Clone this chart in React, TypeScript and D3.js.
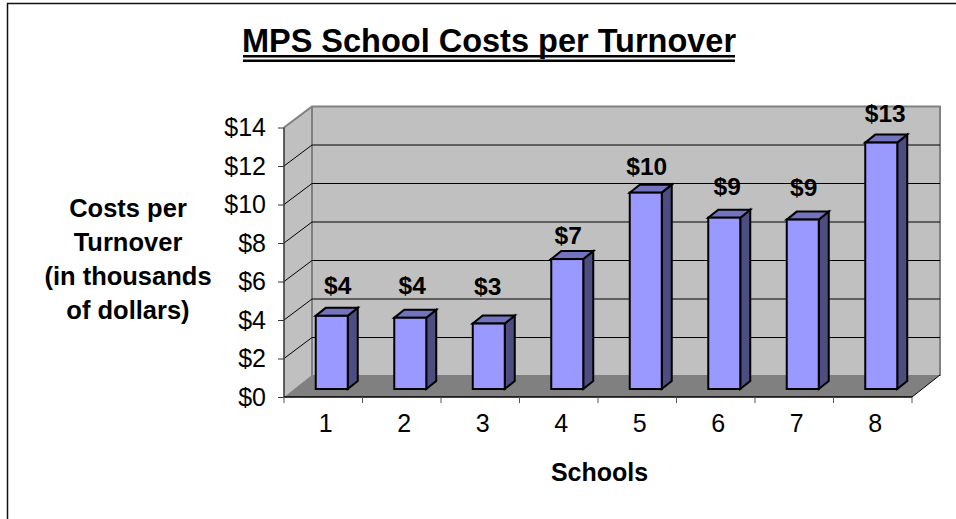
import { useEffect, useRef } from "react"
import * as d3 from "d3"

const schools = ["1", "2", "3", "4", "5", "6", "7", "8"]
const costs = [3.8, 3.7, 3.4, 6.75, 10.2, 8.9, 8.8, 12.8]
const costLabels = ["$4", "$4", "$3", "$7", "$10", "$9", "$9", "$13"]
const costTicks = [0, 2, 4, 6, 8, 10, 12, 14]
const yTitle = ["Costs per", "Turnover", "(in thousands", "of dollars)"]

const FONT = "'Liberation Sans', Arial, sans-serif"

export default function App() {
  const svgRef = useRef<SVGSVGElement>(null)

  useEffect(() => {
    if (!svgRef.current) return
    const svg = d3.select(svgRef.current)
    svg.selectAll("*").remove()
    svg.style("font-family", FONT)

    const x = d3.scaleBand<string>().domain(schools).range([284, 912]).padding(0)
    const y = d3.scaleLinear().domain([0, 14]).range([397, 127.5])

    // 3d depth of the plot box
    const depthX = 28
    const depthY = -21
    const x0 = x.range()[0]
    const x1 = x.range()[1]
    const y0 = y(0)
    const yTop = y(14)

    // frame, only top and left show in the picture
    svg.append("path").attr("d", "M7.5,519V3.5H956").attr("fill", "none").attr("stroke", "#111").attr("stroke-width", 1.5)

    // side wall
    svg.append("path")
      .attr("d", `M${x0},${y0}L${x0},${yTop}L${x0 + depthX},${yTop + depthY}L${x0 + depthX},${y0 + depthY}Z`)
      .attr("fill", "#c0c0c0")
    // back wall
    svg.append("rect")
      .attr("x", x0 + depthX).attr("y", yTop + depthY)
      .attr("width", x1 - x0).attr("height", y0 - yTop)
      .attr("fill", "#c0c0c0")
    // floor
    svg.append("path")
      .attr("d", `M${x0},${y0}L${x0 + depthX},${y0 + depthY - 1}L${x1 + depthX},${y0 + depthY - 1}L${x1},${y0}Z`)
      .attr("fill", "#808080")

    // wall outlines
    svg.append("path")
      .attr("d", `M${x0},${yTop}L${x0 + depthX},${yTop + depthY}H${x1 + depthX}V${y0 + depthY}`)
      .attr("fill", "none").attr("stroke", "#808080").attr("stroke-width", 2)
    svg.append("path")
      .attr("d", `M${x0 + depthX},${yTop + depthY}V${y0 + depthY}`)
      .attr("fill", "none").attr("stroke", "#808080").attr("stroke-width", 2)

    // gridlines
    svg.append("g").selectAll("path")
      .data(costTicks.filter((t) => t > 0 && t < 14))
      .join("path")
      .attr("d", (t) => `M${x0},${y(t)}L${x0 + depthX},${y(t) + depthY}H${x1 + depthX}`)
      .attr("fill", "none").attr("stroke", "#000").attr("stroke-width", 1)

    // bars
    const barWidth = 32
    const barDx = 8.5
    const barDy = -8
    const sideDx = 10
    const sideDy = -8
    const bars = svg.append("g").selectAll("g").data(schools).join("g")
    const left = (s: string) => (x(s) as number) + x.bandwidth() / 2 - barWidth / 2 + barDx
    const valueOf = (i: number) => y(costs[i]) + barDy
    bars.append("path")
      .attr("d", (s, i) => {
        const l = left(s) + barWidth
        return `M${l},${y0 + barDy}V${valueOf(i)}l${sideDx},${sideDy}V${y0 + barDy + sideDy}Z`
      })
      .attr("fill", "#4d4d80").attr("stroke", "#000").attr("stroke-width", 2)
    bars.append("path")
      .attr("d", (s, i) => {
        const l = left(s)
        return `M${l},${valueOf(i)}h${barWidth}l${sideDx},${sideDy}h${-barWidth}Z`
      })
      .attr("fill", "#7373bf").attr("stroke", "#000").attr("stroke-width", 2)
    bars.append("rect")
      .attr("x", (s) => left(s))
      .attr("y", (_, i) => valueOf(i))
      .attr("width", barWidth)
      .attr("height", (_, i) => y0 + barDy - valueOf(i))
      .attr("fill", "#9999ff").attr("stroke", "#000").attr("stroke-width", 2)

    // value labels, hand placed in the original so each has its own nudge
    const labelNudgeX = [6, 2, -1, 1, 1, 3, 1, 4]
    const labelNudgeY = [22, 24, 29, 15, 17.5, 23, 23.7, 21]
    svg.append("g").selectAll("text").data(schools).join("text")
      .attr("x", (s, i) => left(s) + barWidth / 2 + labelNudgeX[i])
      .attr("y", (_, i) => valueOf(i) - labelNudgeY[i])
      .attr("text-anchor", "middle")
      .attr("font-size", 24.5).attr("font-weight", "bold").attr("fill", "#000")
      .text((_, i) => costLabels[i])

    // y axis
    const yAxis = svg.append("g").attr("transform", `translate(${x0},0)`)
      .call(d3.axisLeft(y).tickValues(costTicks).tickFormat((d) => `$${d}`).tickSize(6).tickPadding(12))
    yAxis.select(".domain").attr("d", `M0,${y0}V${yTop}`).attr("stroke", "#333").attr("stroke-width", 1.5)
    yAxis.selectAll("line").attr("stroke", "#333")
    yAxis.selectAll("text").attr("x", -18).attr("font-size", 25).attr("font-family", FONT).attr("fill", "#000")

    // x axis
    const xAxis = svg.append("g").attr("transform", `translate(0,${y0})`)
      .call(d3.axisBottom(x).tickSize(0).tickPadding(17))
    xAxis.select(".domain").attr("d", `M${x0},0H${x1}`).attr("stroke", "#000").attr("stroke-width", 1.5)
    xAxis.selectAll("text").attr("dx", 2.5).attr("font-size", 25).attr("font-family", FONT).attr("fill", "#000")
    svg.append("g").selectAll("line")
      .data([...schools.map((s) => x(s) as number), x1])
      .join("line")
      .attr("x1", (d) => d).attr("x2", (d) => d)
      .attr("y1", y0).attr("y2", y0 + 6)
      .attr("stroke", "#555")
    // floor right edge
    svg.append("path").attr("d", `M${x1},${y0}l${depthX},${depthY - 1}`).attr("stroke", "#000").attr("fill", "none")

    // title
    svg.append("text")
      .attr("x", 489).attr("y", 52)
      .attr("text-anchor", "middle")
      .attr("font-size", 32.5).attr("font-weight", "bold").attr("fill", "#000")
      .text("MPS School Costs per Turnover")
    svg.append("g").selectAll("line").data([56.2, 60.7]).join("line")
      .attr("x1", 243).attr("x2", 735)
      .attr("y1", (d) => d).attr("y2", (d) => d)
      .attr("stroke", "#000").attr("stroke-width", 2.5)

    // axis titles
    svg.append("text")
      .attr("x", 599.5).attr("y", 481)
      .attr("text-anchor", "middle")
      .attr("font-size", 25).attr("font-weight", "bold").attr("fill", "#000")
      .text("Schools")
    svg.append("g").selectAll("text").data(yTitle).join("text")
      .attr("x", 128)
      .attr("y", (_, i) => 217 + i * 34)
      .attr("text-anchor", "middle")
      .attr("font-size", 25.5).attr("font-weight", "bold").attr("fill", "#000")
      .text((d) => d)
  }, [])

  return (
    <svg
      ref={svgRef}
      width={956}
      height={519}
      style={{ position: "fixed", top: 0, left: 0, background: "#fff" }}
    />
  )
}
